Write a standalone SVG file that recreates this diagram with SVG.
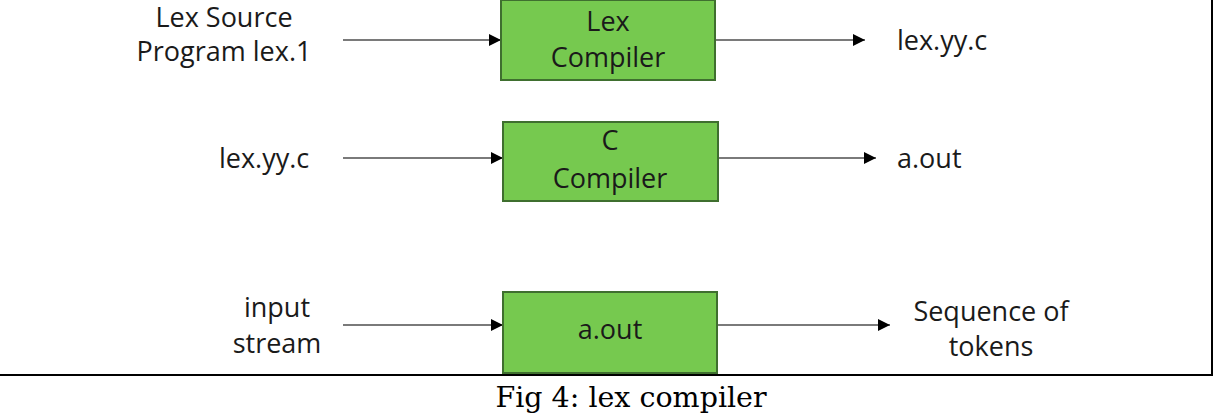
<svg xmlns="http://www.w3.org/2000/svg" width="1221" height="417" viewBox="0 0 1221 417">
<style>
.box{fill:#76c94f;stroke:#3f6f2f;stroke-width:2}
.t{font-family:"Open Sans","Liberation Sans",sans-serif;font-size:27px;fill:#1a1a1a;text-anchor:middle}
.tl{font-family:"Open Sans","Liberation Sans",sans-serif;font-size:27px;fill:#1a1a1a;text-anchor:start}
.c{stroke:#7a7a7a;stroke-width:2;fill:none;marker-end:url(#ah)}
.frame{stroke:#000;stroke-width:2;fill:none}
.cap{font-family:"DejaVu Serif","Liberation Serif",serif;font-size:28.5px;fill:#000;text-anchor:middle}
</style>
<defs>
<marker id="ah" markerWidth="12" markerHeight="12" refX="12" refY="6" orient="auto" markerUnits="userSpaceOnUse">
<path d="M0,0 L12,6 L0,12 Z" fill="#000"/>
</marker>
</defs>
<rect width="1221" height="417" fill="#fff"/>
<path class="frame" d="M0,375 H1212 V0"/>
<g id="connectors">
<line class="c" x1="343" y1="40" x2="501" y2="40"/>
<line class="c" x1="715" y1="40" x2="865" y2="40"/>
<line class="c" x1="343" y1="158" x2="503" y2="158"/>
<line class="c" x1="718" y1="158" x2="876" y2="158"/>
<line class="c" x1="343" y1="325" x2="503" y2="325"/>
<line class="c" x1="717" y1="325" x2="890" y2="325"/>
</g>
<g id="lexsrc"><text class="t" x="224" y="27">Lex Source</text><text class="t" x="224" y="61">Program lex.1</text></g>
<g id="lexcomp"><rect class="box" x="501" y="0" width="214" height="80"/><text class="t" x="608" y="31">Lex</text><text class="t" x="608" y="67">Compiler</text></g>
<g id="lexyyc1"><text class="tl" x="897" y="50">lex.yy.c</text></g>
<g id="lexyyc2"><text class="tl" x="219" y="168">lex.yy.c</text></g>
<g id="ccomp"><rect class="box" x="503" y="122" width="215" height="79"/><text class="t" x="610" y="150">C</text><text class="t" x="610" y="188">Compiler</text></g>
<g id="aout1"><text class="tl" x="897" y="168">a.out</text></g>
<g id="input"><text class="t" x="277" y="317">input</text><text class="t" x="277" y="353">stream</text></g>
<g id="aout2"><rect class="box" x="503" y="292" width="214" height="81"/><text class="t" x="610" y="339">a.out</text></g>
<g id="tokens"><text class="t" x="991" y="321">Sequence of</text><text class="t" x="991" y="356">tokens</text></g>
<text class="cap" x="631" y="407">Fig 4: lex compiler</text>
</svg>
